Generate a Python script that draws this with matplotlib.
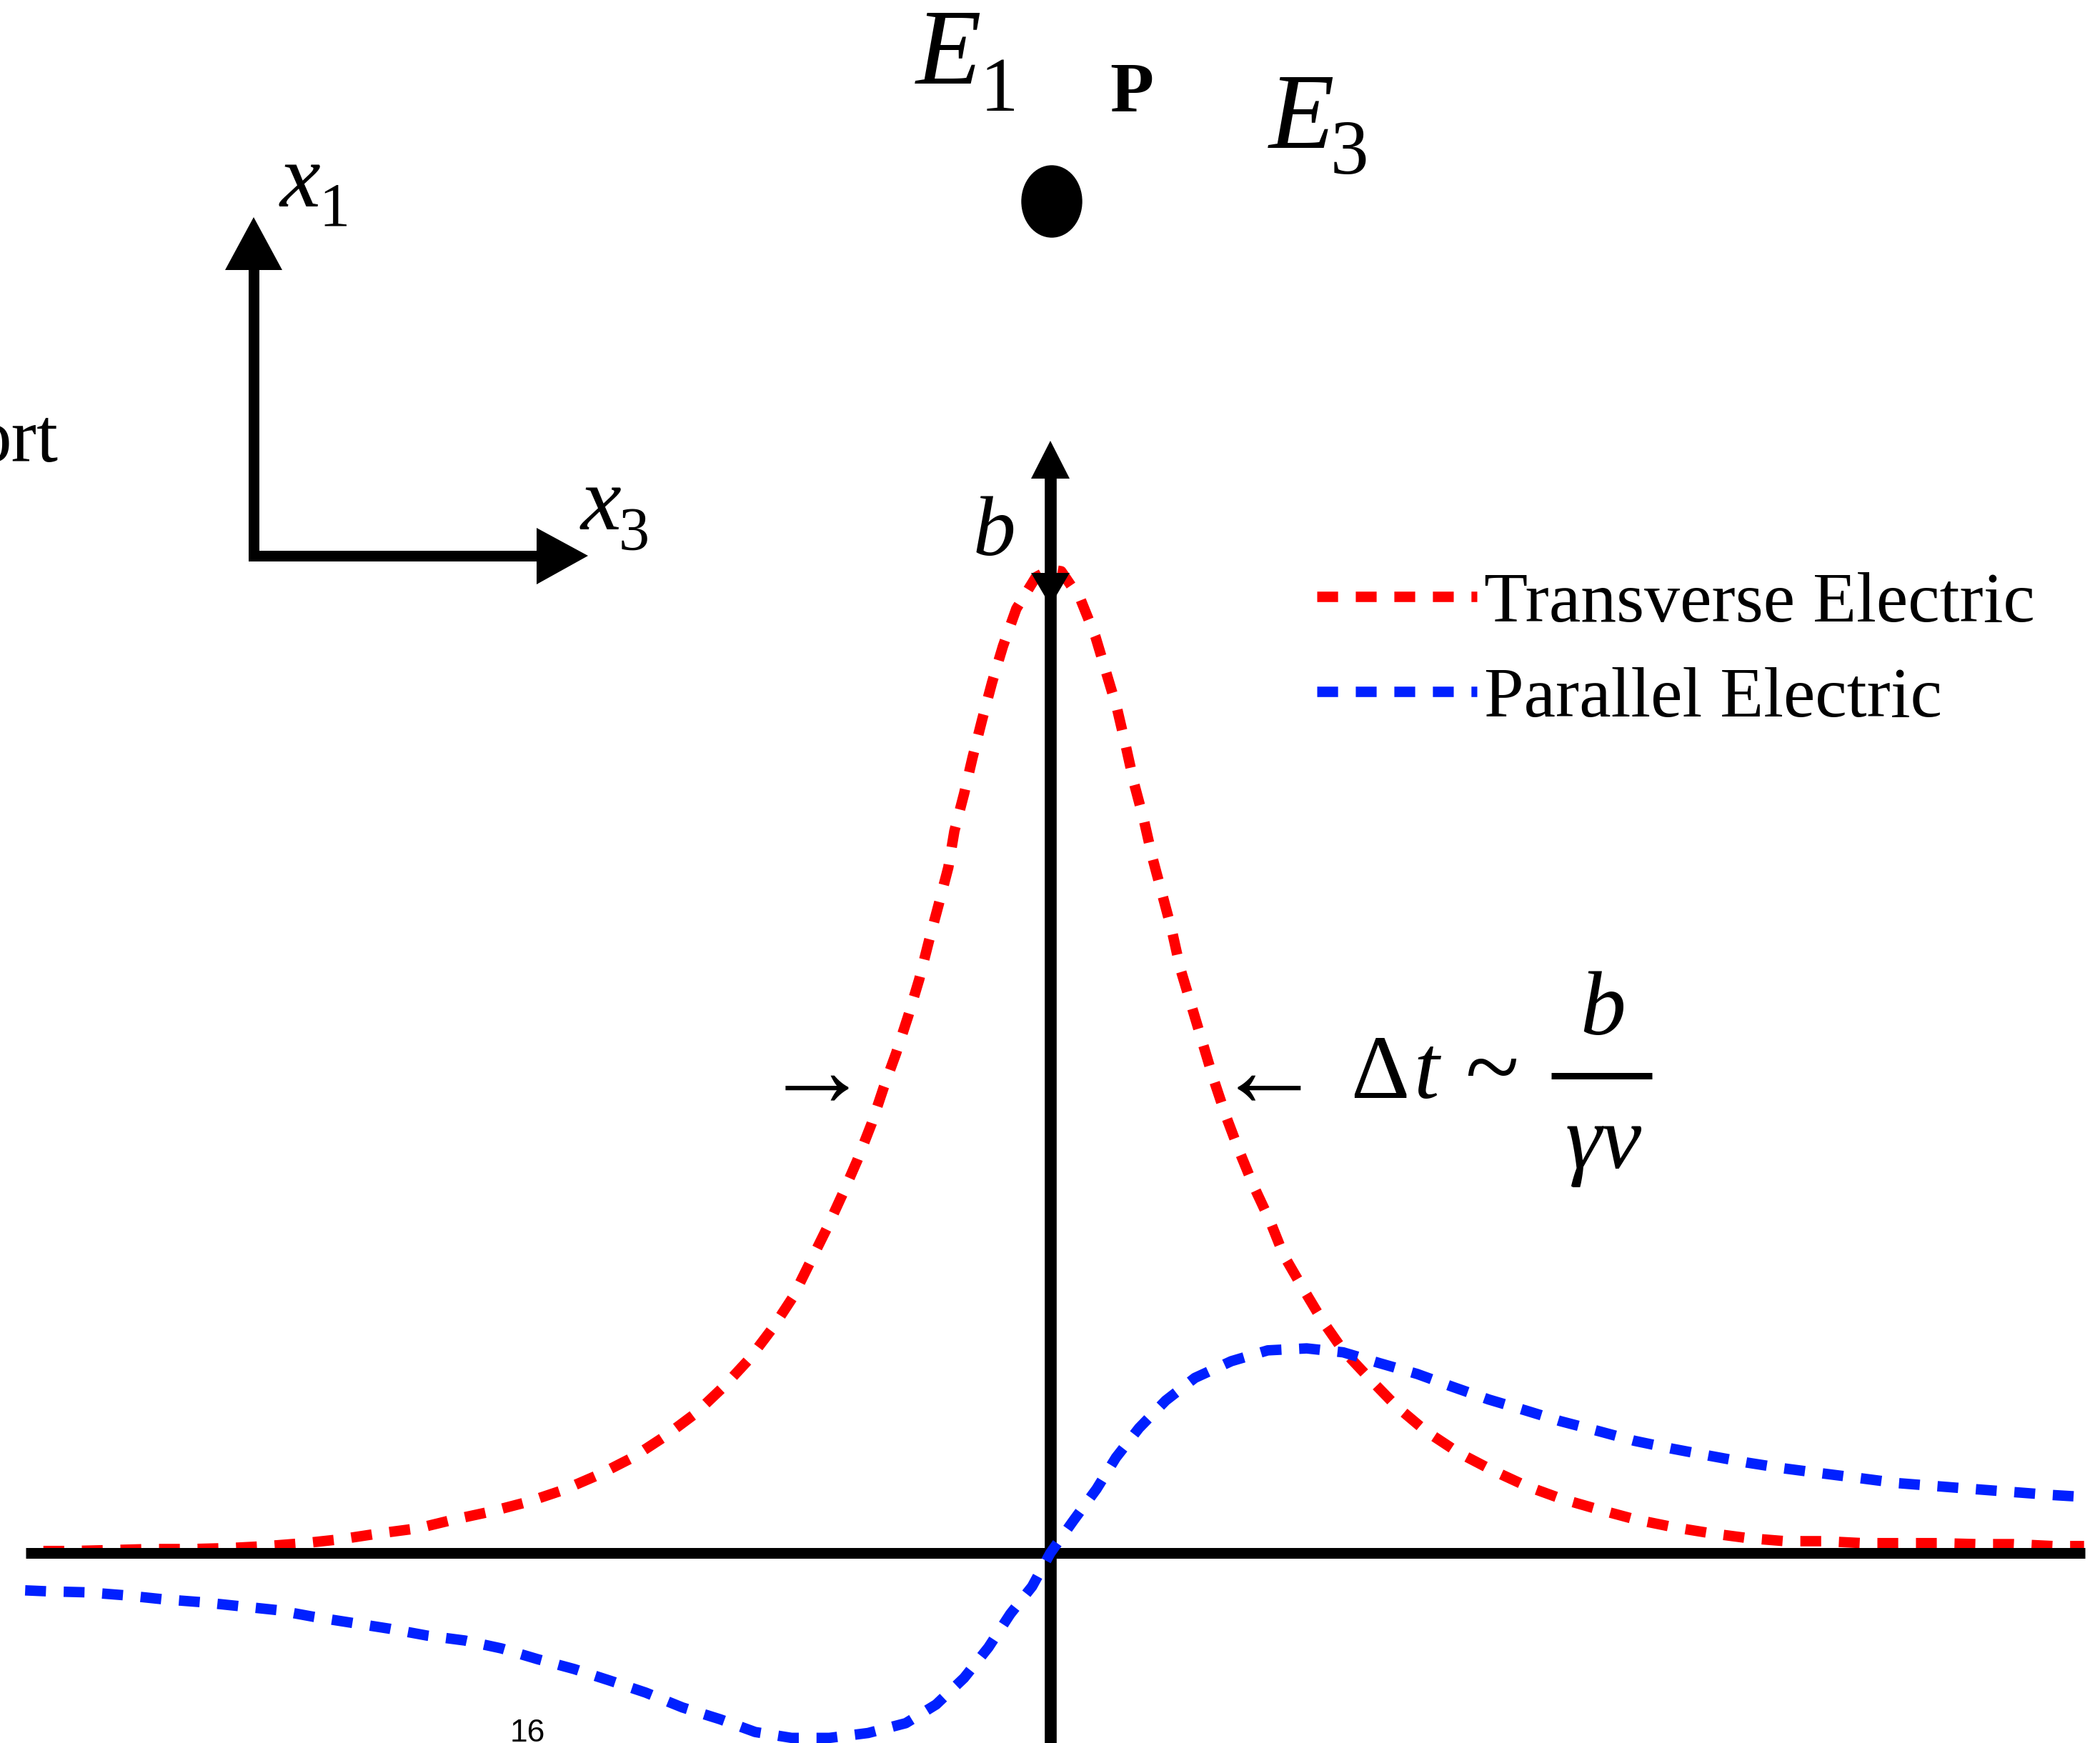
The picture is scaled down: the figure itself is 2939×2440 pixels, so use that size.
import matplotlib
matplotlib.use("Agg")
import matplotlib.pyplot as plt
from matplotlib.patches import Ellipse, Polygon

W, H, DPI = 2939, 2440, 100
X0, Y0 = 1470, 2174           # pixel position of the origin
T_PX, E_PX = 170.0, 1377.0    # pixels per unit of time / of field

# transverse field pulse (normalised to its peak)
red_t = [-8.29, -8.06, -7.72, -7.41, -7.07, -6.76, -6.45, -6.14, -5.84, -5.52,
         -5.21, -4.91, -4.61, -4.30, -4.01, -3.71, -3.44, -3.18, -2.92, -2.69,
         -2.48, -2.29, -2.12, -1.98, -1.84, -1.71, -1.59, -1.47, -1.37, -1.27,
         -1.17, -1.08, -1.00, -0.92, -0.84, -0.79, -0.71, -0.64, -0.56, -0.48,
         -0.39, -0.28, -0.12, 0.00, 0.09, 0.25, 0.37, 0.46, 0.55, 0.62,
         0.69, 0.77, 0.84, 0.92, 1.00, 1.07, 1.16, 1.25, 1.34, 1.44,
         1.55, 1.67, 1.81, 1.92, 2.07, 2.24, 2.41, 2.63, 2.85, 3.09,
         3.36, 3.64, 3.92, 4.21, 4.52, 4.82, 5.14, 5.44, 5.75, 6.05,
         6.37, 6.69, 7.01, 7.31, 7.62, 7.93, 8.26, 8.51]
red_e = [0.002, 0.002, 0.003, 0.004, 0.004, 0.005, 0.007, 0.010, 0.014, 0.020,
         0.025, 0.034, 0.042, 0.052, 0.064, 0.080, 0.097, 0.118, 0.142, 0.169,
         0.197, 0.228, 0.260, 0.295, 0.330, 0.365, 0.399, 0.437, 0.474, 0.508,
         0.546, 0.583, 0.622, 0.659, 0.697, 0.734, 0.772, 0.809, 0.848, 0.885,
         0.922, 0.960, 0.992, 1.000, 0.998, 0.969, 0.932, 0.895, 0.858, 0.821,
         0.782, 0.745, 0.707, 0.670, 0.633, 0.594, 0.557, 0.520, 0.483, 0.446,
         0.410, 0.374, 0.337, 0.303, 0.271, 0.236, 0.206, 0.177, 0.149, 0.124,
         0.102, 0.084, 0.068, 0.055, 0.044, 0.034, 0.026, 0.020, 0.015, 0.012,
         0.012, 0.010, 0.010, 0.010, 0.009, 0.009, 0.007, 0.007]

# parallel field
blue_t = [-8.44, -8.25, -7.93, -7.62, -7.31, -6.99, -6.68, -6.37, -6.06, -5.75,
          -5.44, -5.13, -4.82, -4.52, -4.22, -3.92, -3.62, -3.33, -3.03, -2.72,
          -2.43, -2.13, -1.82, -1.50, -1.19, -0.94, -0.71, -0.51, -0.33, -0.15,
          0.00, 0.19, 0.38, 0.54, 0.73, 0.95, 1.19, 1.49, 1.79, 2.11,
          2.41, 2.71, 3.02, 3.31, 3.61, 3.91, 4.20, 4.51, 4.81, 5.12,
          5.42, 5.73, 6.04, 6.35, 6.67, 6.98, 7.29, 7.60, 7.92, 8.24, 8.51]
blue_e = [-0.038, -0.039, -0.040, -0.043, -0.047, -0.050, -0.054, -0.058, -0.065, -0.071,
          -0.077, -0.084, -0.089, -0.097, -0.108, -0.118, -0.130, -0.142, -0.157, -0.169,
          -0.182, -0.188, -0.188, -0.183, -0.173, -0.154, -0.127, -0.096, -0.062, -0.034,
          0.000, 0.033, 0.065, 0.097, 0.127, 0.155, 0.178, 0.195, 0.206, 0.208,
          0.204, 0.193, 0.182, 0.169, 0.156, 0.145, 0.134, 0.124, 0.114, 0.106,
          0.099, 0.092, 0.086, 0.081, 0.076, 0.071, 0.068, 0.065, 0.062, 0.059, 0.057]

labels = ["Transverse Electric", "Parallel Electric"]

SERIF = ["Liberation Serif", "DejaVu Serif"]
SANS = ["Liberation Sans", "DejaVu Sans"]

fig = plt.figure(figsize=(W / DPI, H / DPI), dpi=DPI)
ax = fig.add_axes([0, 0, 1, 1])
ax.set_xlim(-X0 / T_PX, (W - X0) / T_PX)
ax.set_ylim((Y0 - H) / E_PX, Y0 / E_PX)
ax.axis("off")

lw = 10.5
dash = (2.0, 1.7)
ax.plot(red_t, red_e, color="#ff0000", lw=lw, dashes=dash, zorder=1, label=labels[0])
ax.axhline(0, xmin=36 / W, xmax=2918 / W, color="black", lw=10.8, zorder=2,
           solid_capstyle="butt")
ax.axvline(0, ymin=0, ymax=1 - 668 / H, color="black", lw=12, zorder=2,
           solid_capstyle="butt")
ax.plot(blue_t, blue_e, color="#0020ff", lw=lw, dashes=dash, zorder=3, label=labels[1])

ax.legend(loc="upper left", bbox_to_anchor=(1843 / W, 1 - 800 / H),
          bbox_transform=fig.transFigure, frameon=False, borderpad=0,
          borderaxespad=0, handlelength=2.24, handletextpad=0.1,
          labelspacing=0.42, prop={"family": SERIF, "size": 72})

# overlay in pixel units (y down) for the sketch decorations
deco = fig.add_axes([0, 0, 1, 1])
deco.set_xlim(0, W)
deco.set_ylim(H, 0)
deco.axis("off")
deco.patch.set_visible(False)


def label(x, y, s, size, style="normal", weight="normal", family=SERIF, ha="left"):
    deco.text(x, y, s, fontsize=size, fontstyle=style, fontweight=weight,
              family=family, ha=ha, va="baseline")


def head(pts):
    deco.add_patch(Polygon(pts, closed=True, color="black", lw=0))


# arrowheads on the time axis: up at the top, down for the impact parameter
head([(X0 - 27, 670), (X0 + 27, 670), (X0, 617)])
head([(X0 - 27, 802), (X0 + 27, 802), (X0, 848)])

# x1 / x3 frame
deco.plot([355, 355, 751], [376, 778, 778], color="black", lw=10.8,
          solid_joinstyle="miter", solid_capstyle="butt")
head([(315, 378), (395, 378), (355, 304)])
head([(751, 739), (751, 818), (823, 778)])
label(392, 289, "x", 92, "italic")
label(446, 316, "1", 62)
label(813, 741, "x", 92, "italic")
label(866, 770, "3", 62)

# moving charge and its fields
deco.add_patch(Ellipse((1472, 282), 84, 100, color="black"))
label(1282, 117, "E", 108, "italic")
label(1372, 155, "1", 77)
label(1553, 155, "P", 72, weight="bold")
label(1776, 207, "E", 108, "italic")
label(1862, 243, "3", 77)

label(82, 646, "ort", 77, ha="right")
label(1362, 777, "b", 86, "italic")

# pulse width annotation
label(1143, 1547, "\u2192", 107, ha="center")
label(1776, 1547, "\u2190", 107, ha="center")
label(1890, 1537, "\u0394", 92)
label(1978, 1537, "t", 92, "italic")
label(2050, 1540, "~", 100)
deco.plot([2171, 2312], [1506, 1506], color="black", lw=6.5, solid_capstyle="butt")
label(2243, 1448, "b", 92, "italic", ha="center")
label(2244, 1635, "\u03b3v", 92, "italic", ha="center")

label(738, 2438, "16", 32, family=SANS, ha="center")

fig.savefig("out.png", dpi=DPI)
